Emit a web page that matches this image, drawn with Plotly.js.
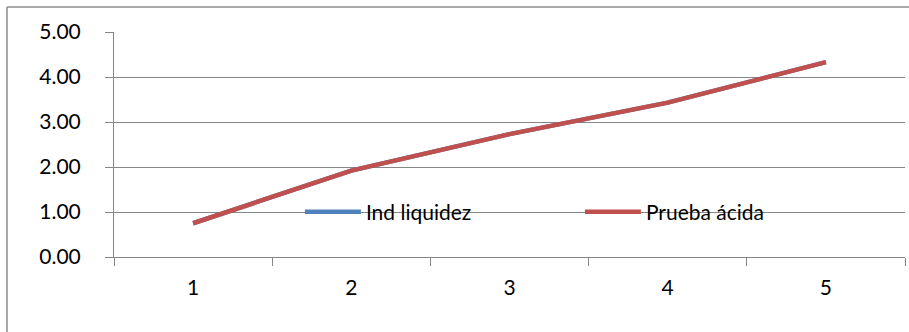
<!DOCTYPE html>
<html>
<head>
<meta charset="utf-8">
<script src="https://cdn.plot.ly/plotly-3.0.1.min.js"></script>
<style>
  html, body { margin: 0; padding: 0; background: #ffffff; }
  #chart { width: 909px; height: 332px; }
</style>
</head>
<body>
<div id="chart"></div>
<script>
// Periods on the category axis
const periods = ['1', '2', '3', '4', '5'];

// Liquidity ratios per period
const indLiquidez = [0.75, 1.92, 2.73, 3.43, 4.33];
const pruebaAcida = [0.75, 1.92, 2.73, 3.43, 4.33];

const seriesNames = ['Ind liquidez', 'Prueba ácida'];
const seriesColors = ['#4F81BD', '#C0504D'];

const axisGray = '#868686';
const fontFamily = 'Lato, "Open Sans", sans-serif';

const traces = [indLiquidez, pruebaAcida].map((vals, i) => ({
  type: 'scatter',
  mode: 'lines',
  x: periods,
  y: vals,
  name: seriesNames[i],
  line: { color: seriesColors[i], width: 4.5 },
  hoverinfo: 'skip'
}));

const layout = {
  width: 909,
  height: 332,
  margin: { l: 114, r: 4, t: 32, b: 75, pad: 0 },
  paper_bgcolor: '#ffffff',
  plot_bgcolor: '#ffffff',
  font: { family: fontFamily, size: 21, color: '#000000' },
  showlegend: true,
  legend: {
    orientation: 'h',
    x: 0.235,
    xanchor: 'left',
    y: 0.2,
    yanchor: 'middle',
    bgcolor: 'rgba(0,0,0,0)',
    font: { family: fontFamily, size: 21, color: '#000000' },
    entrywidth: 209,
    entrywidthmode: 'pixels',
    itemwidth: 56,
    tracegroupgap: 0
  },
  xaxis: {
    type: 'category',
    range: [-0.5, periods.length - 0.5],
    tickson: 'boundaries',
    ticks: 'outside',
    ticklen: 8,
    tickwidth: 1,
    tickcolor: axisGray,
    showline: true,
    linecolor: axisGray,
    linewidth: 1,
    showgrid: false,
    zeroline: false,
    ticklabelstandoff: 12,
    fixedrange: true
  },
  yaxis: {
    range: [0, 5],
    dtick: 1,
    tick0: 0,
    tickformat: '.2f',
    ticks: 'outside',
    ticklen: 8,
    tickwidth: 1,
    tickcolor: axisGray,
    showline: true,
    linecolor: axisGray,
    linewidth: 1,
    showgrid: true,
    gridcolor: axisGray,
    gridwidth: 1,
    zeroline: false,
    ticklabelstandoff: 20,
    fixedrange: true
  },
  shapes: [
    // chart-area frame (top and left edges)
    { type: 'line', xref: 'paper', yref: 'paper',
      x0: -107 / 791, x1: 1.01, y0: 1 + 25 / 225, y1: 1 + 25 / 225,
      line: { color: '#8c8c8c', width: 1.5 } },
    { type: 'line', xref: 'paper', yref: 'paper',
      x0: -107 / 791, x1: -107 / 791, y0: 1 + 25 / 225, y1: -0.4,
      line: { color: '#8c8c8c', width: 1.5 } }
  ]
};

Plotly.newPlot('chart', traces, layout, { displayModeBar: false, staticPlot: true });
</script>
</body>
</html>
